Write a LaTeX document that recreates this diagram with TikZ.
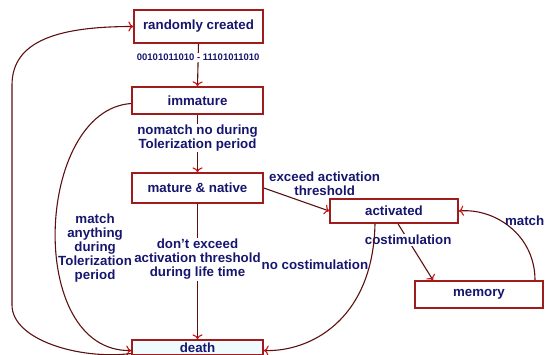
\documentclass[tikz,border=0pt]{standalone}
\usepackage{fontspec}
\setmainfont{Liberation Sans}
\usetikzlibrary{arrows.meta}
\definecolor{linered}{HTML}{5C1010}
\definecolor{boxred}{HTML}{9E1C1C}
\definecolor{tipred}{HTML}{D01010}
\definecolor{txtblue}{HTML}{16166E}
\definecolor{deathfill}{HTML}{EFFBFF}

\begin{document}
\begin{tikzpicture}[x=1pt,y=-1pt,
  state/.style={draw=boxred, line width=1.6pt, fill=white, text=txtblue,
    font=\bfseries\fontsize{13.3}{14}\selectfont, inner sep=0pt},
  flow/.style={draw=linered, line width=1.1pt, -{To[color=tipred,scale=1.2]}},
  lbl/.style={text=txtblue, font=\bfseries\fontsize{13.3}{14}\selectfont, align=center, inner sep=1pt}]
\useasboundingbox (0,0) rectangle (545,354);
\clip (0,0) rectangle (545,354);

% states
\node[state, minimum width=129pt, minimum height=33pt] (created) at (198.5,26.5) {randomly created};
\node[state, minimum width=131pt, minimum height=27pt] (immature) at (197.5,100.5) {immature};
\node[state, minimum width=131pt, minimum height=30pt] (mature) at (197.5,188) {mature \& native};
\node[state, minimum width=128pt, minimum height=24pt] (activated) at (394,211) {activated};
\node[state, minimum width=128pt, minimum height=27pt] (memory) at (479,294.5) {memory};
\node[state, fill=deathfill, minimum width=131pt, minimum height=15pt] (death) at (197.5,347.5) {death};

% main line
\draw[flow] (created.south) -- node[lbl, pos=0.32, fill=white, font=\bfseries\fontsize{9.5}{10}\selectfont] {00101011010 - 11101011010} (immature.north);
\draw[flow] (immature.south) -- node[lbl, pos=0.4, fill=white] {nomatch no during\\Tolerization period} (mature.north);
\draw[flow] (mature.south) -- node[lbl, pos=0.41, fill=white] {don't exceed\\activation threshold\\during life time} (death.north);

% activation
\draw[flow] (mature.east) -- node[lbl, pos=0.93, above=12pt] {exceed activation\\threshold} (activated.west);
\draw[flow] ([xshift=4pt]activated.south) -- node[lbl, pos=0.29, fill=white] {costimulation} ([xshift=-46pt]memory.north);
\draw[flow] ([xshift=56pt]memory.north) .. controls (535,235) and (495,208) .. node[lbl, pos=0.5, anchor=west, xshift=-7pt, yshift=7pt] {match} (activated.east);
\draw[flow] ([xshift=-19pt]activated.south) .. controls (373,320) and (310,352) .. node[lbl, pos=0.16, anchor=east] {no costimulation} ([yshift=-3pt]death.east);

% back to death / start
\draw[flow] ([yshift=-3pt]immature.west) .. controls (35,110) and (25,352) .. node[lbl, pos=0.55, anchor=west, inner sep=2pt] {match\\anything\\during\\Tolerization\\period} ([yshift=-3pt]death.west);
\draw[flow] ([yshift=-6pt]death.west) .. controls (80,360) and (12,340) .. (12,305) -- (12,85) .. controls (12,40) and (60,26.5) .. (created.west);

\end{tikzpicture}
\end{document}
